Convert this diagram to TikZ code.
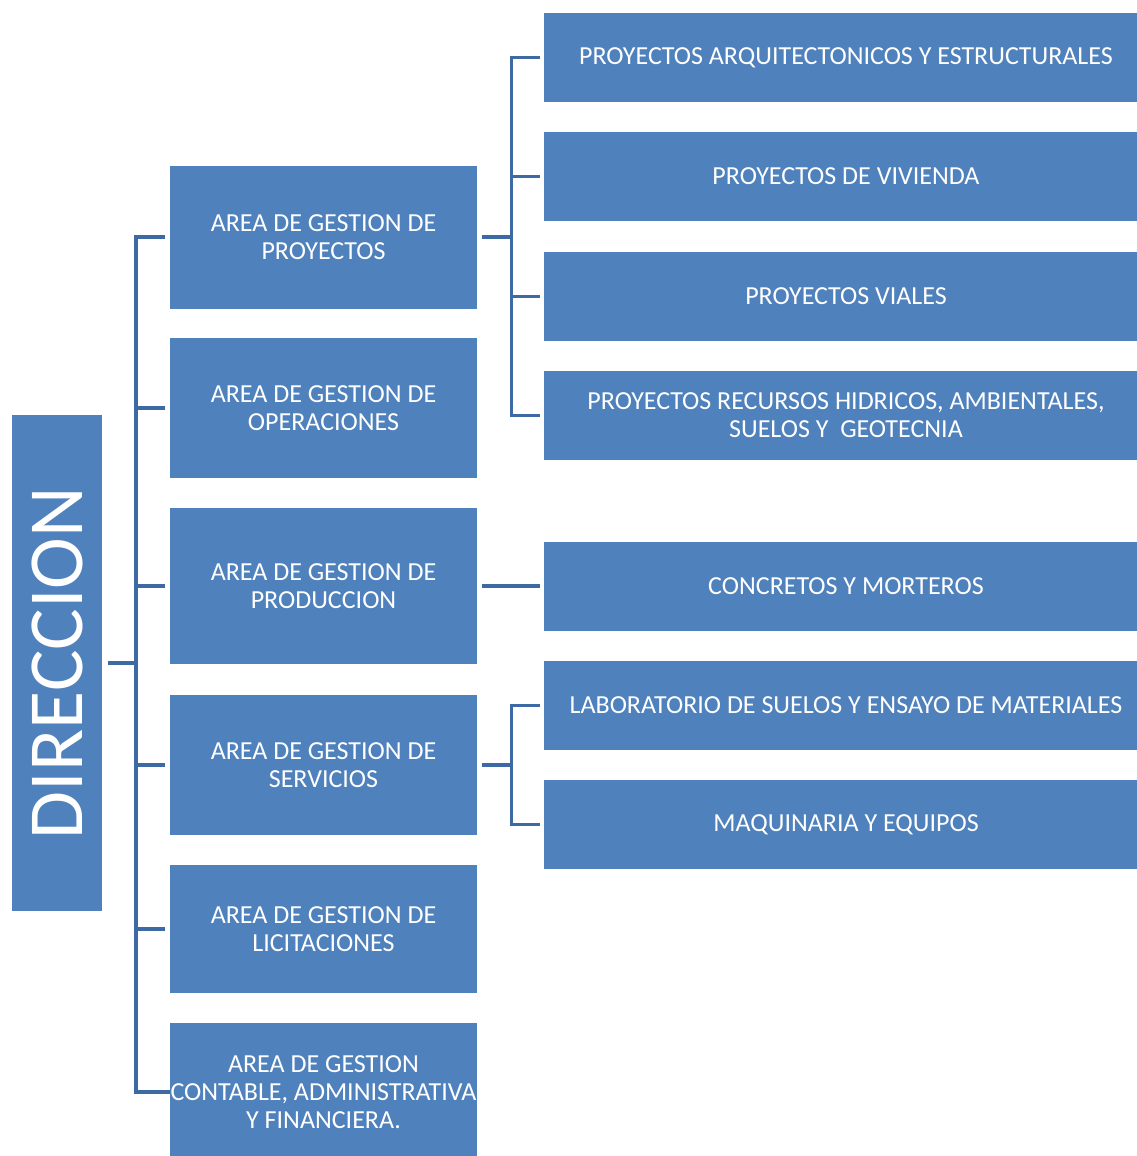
\documentclass[tikz,border=0pt]{standalone}
\usepackage{fontspec}
\setmainfont{Carlito}
\definecolor{boxblue}{RGB}{79,129,189}
\definecolor{lineblue}{RGB}{62,106,163}

\begin{document}
\begin{tikzpicture}[x=1pt, y=-1pt,
  box/.style={fill=boxblue, draw=none, text=white, align=center, inner sep=0pt,
    font=\fontsize{26}{28}\selectfont},
  area/.style={box, minimum width=307pt},
  sub/.style={box, minimum width=604pt, minimum height=89pt},
  conn/.style={draw=lineblue, line width=3.2pt}]
\useasboundingbox (0,0) rectangle (1137,1156);
\clip (0,0) rectangle (1137,1156);

% direccion
\node[box, minimum width=90pt, minimum height=496pt] (dir) at (57,663)
  {\rotatebox{90}{\fontsize{78}{78}\selectfont DIRECCION}};

% areas
\node[area, minimum height=143pt] (proy) at (323.5,237) {AREA DE GESTION DE\\PROYECTOS};
\node[area, minimum height=140pt] (oper) at (323.5,408) {AREA DE GESTION DE\\OPERACIONES};
\node[area, minimum height=156pt] (prod) at (323.5,586) {AREA DE GESTION DE\\PRODUCCION};
\node[area, minimum height=140pt] (serv) at (323.5,765) {AREA DE GESTION DE\\SERVICIOS};
\node[area, minimum height=128pt] (lic) at (323.5,929) {AREA DE GESTION DE\\LICITACIONES};
\node[area, minimum height=138pt] (cont) at (323.5,1092) {AREA DE GESTION\\CONTABLE, ADMINISTRATIVA\\Y FINANCIERA.};

% sub areas
\node[sub] (arq) at (846,57.5) {PROYECTOS ARQUITECTONICOS Y ESTRUCTURALES};
\node[sub] (viv) at (846,176.5) {PROYECTOS DE VIVIENDA};
\node[sub] (vial) at (846,296.5) {PROYECTOS VIALES};
\node[sub] (hid) at (846,415.5) {PROYECTOS RECURSOS HIDRICOS, AMBIENTALES,\\SUELOS Y\ \ GEOTECNIA};
\node[sub] (conc) at (846,586) {CONCRETOS Y MORTEROS};
\node[sub] (lab) at (846,705.5) {LABORATORIO DE SUELOS Y ENSAYO DE MATERIALES};
\node[sub] (maq) at (846,824.5) {MAQUINARIA Y EQUIPOS};

% connectors
\coordinate (trunk) at (136,663);
\coordinate (forkp) at ([xshift=34pt]proy.east);
\coordinate (forks) at ([xshift=34pt]serv.east);
\draw[conn, shorten <=6pt] (dir.east) -- (trunk);
\foreach \a in {proy,oper,prod,serv,lic}
  \draw[conn, shorten >=5pt] (trunk) |- (\a.west);
\draw[conn] (trunk) |- (cont.west);
\draw[conn, shorten <=5pt] (proy.east) -- (forkp);
\foreach \s in {arq,viv,vial,hid}
  \draw[conn, shorten >=4pt] (forkp) |- (\s.west);
\draw[conn, shorten <=5pt, shorten >=4pt] (prod.east) -- (conc.west);
\draw[conn, shorten <=5pt] (serv.east) -- (forks);
\foreach \s in {lab,maq}
  \draw[conn, shorten >=4pt] (forks) |- (\s.west);
\end{tikzpicture}
\end{document}
